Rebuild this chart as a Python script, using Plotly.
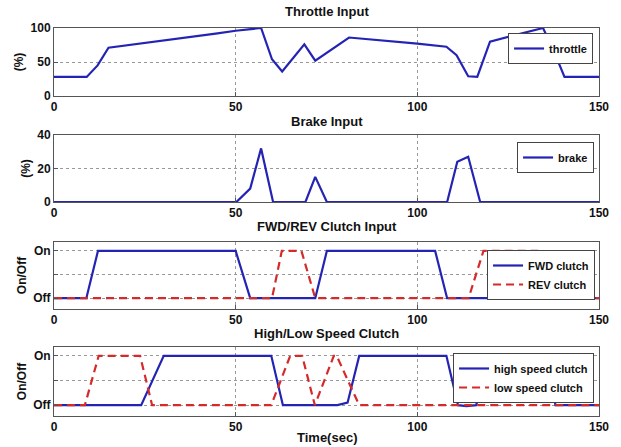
import plotly.graph_objects as go

# ---------------- data ----------------
throttle_t = [0, 9, 12, 15, 45, 50, 57, 60, 62.8, 68.9, 71.9, 81.2, 100, 108, 110.8, 114, 116.5, 120, 134.6, 137.8, 140.5, 150]
throttle_v = [28, 28, 45, 71, 92, 96, 100, 54, 36, 76, 52, 86, 77, 72.5, 60, 29, 28, 80, 100, 63, 28, 28]

brake_t = [0, 50.2, 54, 57, 60.3, 69.2, 71.9, 75.1, 108.2, 111, 114, 117.3, 150]
brake_v = [0, 0, 8, 32, 0, 0, 15, 0, 0, 24, 27, 0, 0]

fwd_t = [0, 8.9, 12.1, 50, 54, 71.9, 75.1, 104.9, 108.2, 150]
fwd_v = [0, 0, 1, 1, 0, 0, 1, 1, 0, 0]

rev_t = [0, 60, 62.7, 68.1, 71.9, 114.1, 118.2, 133, 135.5, 150]
rev_v = [0, 0, 1, 1, 0, 0, 1, 1, 0, 0]

high_t = [0, 24, 30.2, 59.8, 63, 78, 80.8, 84, 108, 111.2, 113.5, 116.2, 120, 136, 138, 150]
high_v = [0, 0, 1, 1, 0, 0, 0.05, 1, 1, 0, -0.02, 0, 1, 1, 0, 0]

low_t = [0, 8.5, 12.3, 23.7, 27, 59.8, 65, 68.3, 71.8, 77, 77.8, 84, 150]
low_v = [0, 0, 1, 1, 0, 0, 1, 1, 0, 1, 1, 0, 0]

x_ticks = [0, 50, 100, 150]
panel_titles = ["Throttle Input", "Brake Input", "FWD/REV Clutch Input", "High/Low Speed Clutch"]
onoff_vals = [0, 0.5, 1]
onoff_text = ["Off", "", "On"]

# ---------------- styling ----------------
BLUE = "#2424b4"
RED = "#d42a2a"
FONT = "Liberation Sans Narrow, Liberation Sans, Arial"
W, H = 621, 447
ML, MR, MT, MB = 54, 16, 28, 31
PH = H - MT - MB


def py2paper(py):
    return (H - MB - py) / PH


def px2paper(px):
    return (px - ML) / (W - ML - MR)


panels = [(28, 96), (135, 202), (242, 309), (347, 416)]

fig = go.Figure()

traces = [
    (throttle_t, throttle_v, "throttle", BLUE, "solid", 1, "legend"),
    (brake_t, brake_v, "brake", BLUE, "solid", 2, "legend2"),
    (fwd_t, fwd_v, "FWD clutch", BLUE, "solid", 3, "legend3"),
    (rev_t, rev_v, "REV clutch", RED, "dash", 3, "legend3"),
    (high_t, high_v, "high speed clutch", BLUE, "solid", 4, "legend4"),
    (low_t, low_v, "low speed clutch", RED, "dash", 4, "legend4"),
]
for t, v, name, col, dash, k, leg in traces:
    fig.add_trace(go.Scatter(
        x=t, y=v, mode="lines", name=name, showlegend=True,
        line=dict(color=col, width=2.2, dash=("8px,5px" if dash == "dash" else "solid")),
        xaxis="x" if k == 1 else f"x{k}", yaxis="y" if k == 1 else f"y{k}",
        legend=leg,
    ))

tickfont = dict(family=FONT, size=12, color="#111", weight="bold")
axis_common = dict(
    showline=True, linecolor="#555", linewidth=1, mirror=True,
    ticks="inside", ticklen=4, tickcolor="#555",
    showgrid=True, gridcolor="#999", griddash="dot", gridwidth=1,
    zeroline=False, tickfont=tickfont,
)

yranges = [[0, 100], [0, 40], [-0.23, 1.19], [-0.22, 1.18]]
yticks = [([0, 50, 100], None), ([0, 20, 40], None), (onoff_vals, onoff_text), (onoff_vals, onoff_text)]
ytitles = ["(%)", "(%)", "On/Off", "On/Off"]

layout = dict(
    width=W, height=H,
    margin=dict(l=ML, r=MR, t=MT, b=MB),
    plot_bgcolor="white", paper_bgcolor="white",
    font=dict(family=FONT, size=12, color="#111"),
    showlegend=True,
    annotations=[],
)

for i, (top, bot) in enumerate(panels):
    k = i + 1
    xa = "xaxis" if k == 1 else f"xaxis{k}"
    ya = "yaxis" if k == 1 else f"yaxis{k}"
    yref = "y" if k == 1 else f"y{k}"
    xref = "x" if k == 1 else f"x{k}"
    layout[xa] = dict(axis_common, domain=[0, 1], range=[0, 150], tickvals=x_ticks,
                      anchor=yref)
    tv, tt = yticks[i]
    yd = dict(axis_common, domain=[py2paper(bot), py2paper(top)], range=yranges[i],
              tickvals=tv, anchor=xref)
    if tt is not None:
        yd["ticktext"] = tt
    yd["title"] = dict(text=ytitles[i], font=dict(family=FONT, size=12, weight="bold"), standoff=4)
    layout[ya] = yd

title_y = [12, 121, 227, 333]
for ty, txt in zip(title_y, panel_titles):
    layout["annotations"].append(dict(
        text=txt, x=0.5, y=py2paper(ty), xref="paper", yref="paper",
        showarrow=False, xanchor="center", yanchor="middle",
        font=dict(family=FONT, size=13, color="#111", weight="bold")))
layout["annotations"].append(dict(
    text="Time(sec)", x=0.5, y=py2paper(437), xref="paper", yref="paper",
    showarrow=False, xanchor="center", yanchor="middle",
    font=dict(family=FONT, size=13, color="#111", weight="bold")))

legend_common = dict(bgcolor="white", bordercolor="#444", borderwidth=1,
                     font=dict(family=FONT, size=11, color="#111", weight="bold"),
                     xanchor="right", yanchor="top", xref="paper", yref="paper",
                     tracegroupgap=0, itemwidth=30, visible=True)
leg_pos = [(599, 33), (600, 142), (601, 250), (600, 353)]
for i, (lx, ly) in enumerate(leg_pos):
    key = "legend" if i == 0 else f"legend{i+1}"
    layout[key] = dict(legend_common, x=px2paper(lx), y=py2paper(ly))

fig.update_layout(**layout)
fig.write_html("out.html")
